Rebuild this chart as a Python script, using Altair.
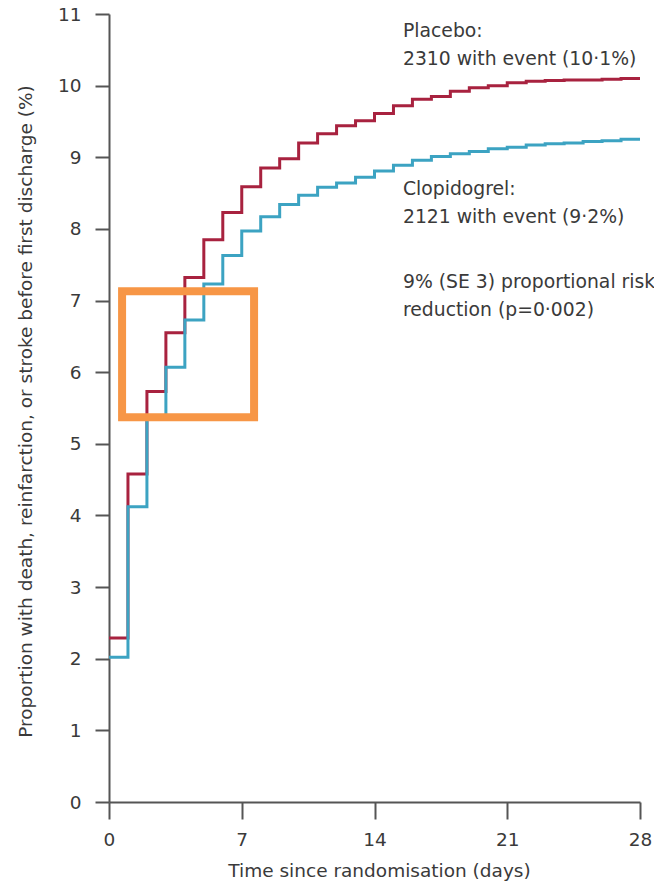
import altair as alt
import pandas as pd

# ---- data ----
days = list(range(29))
placebo = [2.29, 4.58, 5.73, 6.55, 7.32, 7.85, 8.23, 8.59, 8.85, 8.98,
           9.20, 9.33, 9.44, 9.51, 9.61, 9.72, 9.81, 9.85, 9.92, 9.97,
           10.00, 10.04, 10.06, 10.07, 10.08, 10.08, 10.09, 10.10, 10.10]
clopidogrel = [2.02, 4.12, 5.34, 6.07, 6.73, 7.23, 7.63, 7.97, 8.17, 8.34,
               8.47, 8.58, 8.64, 8.72, 8.81, 8.89, 8.96, 9.01, 9.05, 9.08,
               9.12, 9.14, 9.17, 9.19, 9.20, 9.22, 9.23, 9.25, 9.25]
groups = ["Placebo", "Clopidogrel"]
colors = ["#a8223f", "#3ca3c2"]
x_ticks = [0, 7, 14, 21, 28]
y_ticks = list(range(12))

annot_text = ["Placebo:\n2310 with event (10·1%)",
              "Clopidogrel:\n2121 with event (9·2%)",
              "9% (SE 3) proportional risk\nreduction (p=0·002)"]
annot_day = [15.5, 15.5, 15.5]
annot_pct = [10.68, 8.47, 7.17]

# highlight box (data coordinates)
box_day = [0.69]
box_day2 = [7.65]
box_pct = [5.37]
box_pct2 = [7.13]

FONT = "DejaVu Sans"
FS = 18.5
TXT = "#3a3a3a"
AX = "#555555"

df = pd.DataFrame({
    "day": days + days,
    "pct": placebo + clopidogrel,
    "group": [groups[0]] * len(days) + [groups[1]] * len(days),
})
ann = pd.DataFrame({"day": annot_day, "pct": annot_pct, "text": annot_text})
box = pd.DataFrame({"d1": box_day, "d2": box_day2, "p1": box_pct, "p2": box_pct2})

x_scale = alt.Scale(domain=[0, 28], nice=False, zero=False)
y_scale = alt.Scale(domain=[0, 11], nice=False)

lines = alt.Chart(df).mark_line(interpolate="step-after", strokeWidth=3).encode(
    x=alt.X("day:Q", scale=x_scale,
            axis=alt.Axis(values=x_ticks, title="Time since randomisation (days)",
                          tickSize=17, labelPadding=26, labelBaseline="alphabetic",
                          labelFlush=False, labelOverlap=False,
                          titleY=74, titleBaseline="alphabetic", titleX=270)),
    y=alt.Y("pct:Q", scale=y_scale,
            axis=alt.Axis(values=y_ticks, format="d",
                          title="Proportion with death, reinfarction, or stroke before first discharge (%)",
                          tickSize=14, labelPadding=14, labelFlush=False, labelOverlap=False,
                          titleX=-78, titleY=397, titleBaseline="alphabetic",
                          titleAlign="center", titleAngle=270)),
    color=alt.Color("group:N", scale=alt.Scale(domain=groups, range=colors), legend=None),
    detail="group:N",
)

texts = alt.Chart(ann).mark_text(
    align="left", baseline="alphabetic", font=FONT, fontSize=18.8,
    lineHeight=28, lineBreak="\n", color=TXT,
).encode(
    x=alt.X("day:Q", scale=x_scale),
    y=alt.Y("pct:Q", scale=y_scale),
    text="text:N",
)

rect = alt.Chart(box).mark_rect(fillOpacity=0, stroke="#f79646", strokeWidth=8).encode(
    x=alt.X("d1:Q", scale=x_scale),
    x2="d2:Q",
    y=alt.Y("p1:Q", scale=y_scale),
    y2="p2:Q",
)

chart = alt.layer(lines, texts, rect).properties(
    width=531, height=788,
    padding={"left": 109, "top": 14, "right": 14, "bottom": 82},
    autosize=alt.AutoSizeParams(type="none"),
    background="white",
).configure_view(stroke=None).configure_axis(
    grid=False,
    domainColor=AX, domainWidth=2,
    tickColor=AX, tickWidth=2,
    labelFont=FONT, labelFontSize=FS, labelColor=TXT,
    titleFont=FONT, titleFontSize=FS, titleColor=TXT, titleFontWeight="normal",
)

chart.save("out.html", embed_options={"renderer": "svg", "actions": False})
